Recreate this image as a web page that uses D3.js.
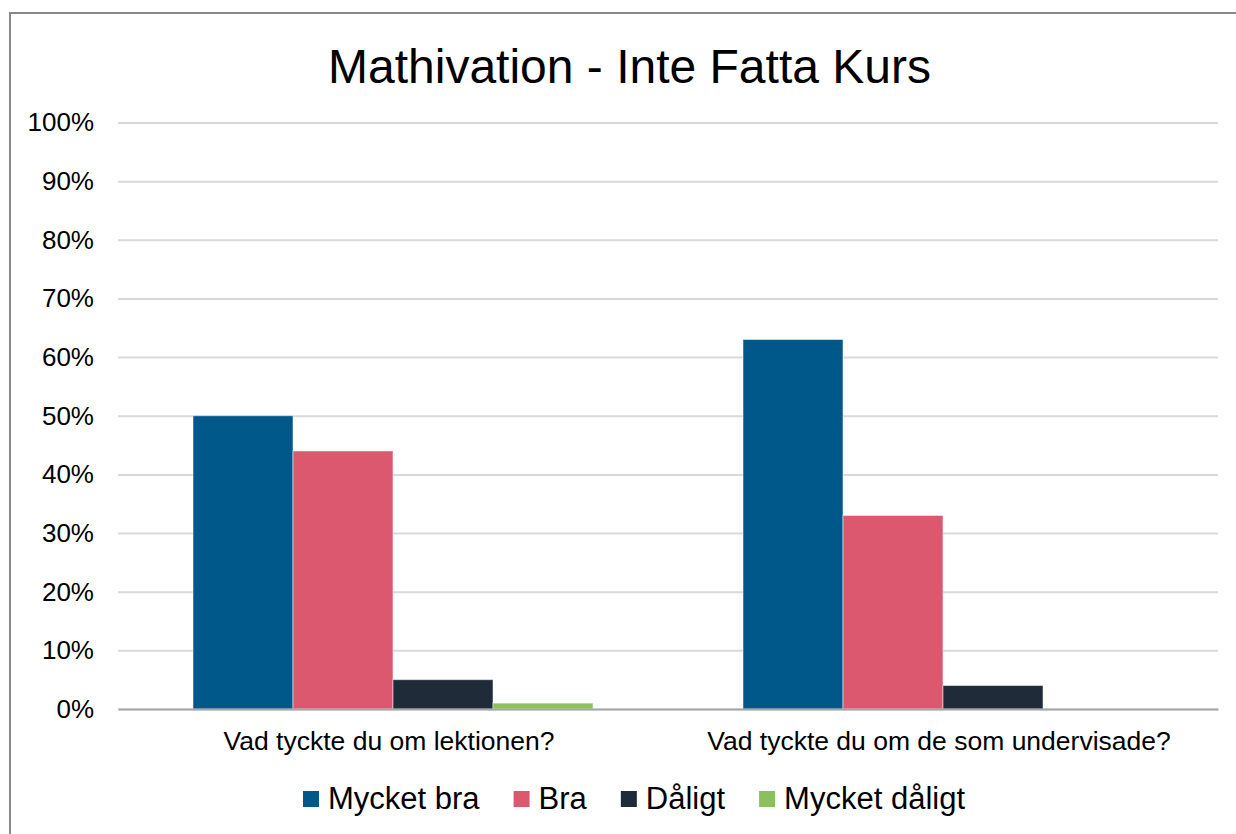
<!DOCTYPE html>
<html>
<head>
<meta charset="utf-8">
<script src="https://cdn.jsdelivr.net/npm/d3@7"></script>
<style>
  body { margin: 0; background: #fff; }
  svg { display: block; font-family: "Liberation Sans", Arial, sans-serif; }
</style>
</head>
<body>
<div id="visContainer"></div>
<script>
'use strict';

// data
var title = 'Mathivation - Inte Fatta Kurs';
var categories = ['Vad tyckte du om lektionen?', 'Vad tyckte du om de som undervisade?'];
var seriesNames = ['Mycket bra', 'Bra', 'Dåligt', 'Mycket dåligt'];
var seriesColors = ['#00578a', '#dc586f', '#1f2b38', '#8bc15a'];
var mycketBra = [0.50, 0.63];
var bra = [0.44, 0.33];
var daligt = [0.05, 0.04];
var mycketDaligt = [0.01, 0];
var yTicks = [0, 0.1, 0.2, 0.3, 0.4, 0.5, 0.6, 0.7, 0.8, 0.9, 1.0];

var seriesValues = [mycketBra, bra, daligt, mycketDaligt];

var width = 1236, height = 834;
var plot = {left: 118, right: 1218, top: 122.5, bottom: 709};

var svg = d3.select('#visContainer')
  .append('svg')
  .attr('width', width)
  .attr('height', height);

// chart frame (right and bottom edges fall outside the picture)
svg.append('rect')
  .attr('x', 10).attr('y', 13)
  .attr('width', width + 20).attr('height', height + 20)
  .attr('fill', '#fff')
  .attr('stroke', '#898989')
  .attr('stroke-width', 2);

// title
svg.append('text')
  .attr('x', 629.5).attr('y', 83)
  .attr('text-anchor', 'middle')
  .attr('font-size', 48)
  .attr('fill', '#000')
  .text(title);

var xScale = d3.scaleBand()
  .domain(categories)
  .range([plot.left, plot.right])
  .padding(0);

var inner = d3.scaleBand()
  .domain(seriesNames)
  .range([0, xScale.bandwidth()])
  .paddingInner(0)
  .paddingOuter(0.75);

var yScale = d3.scaleLinear()
  .domain([0, 1])
  .range([plot.bottom, plot.top]);

// gridlines + y labels
var yAxis = d3.axisLeft(yScale)
  .tickValues(yTicks)
  .tickFormat(d3.format('.0%'))
  .tickSize(-(plot.right - plot.left))
  .tickPadding(24);

var gy = svg.append('g')
  .attr('transform', 'translate(' + plot.left + ',0)')
  .call(yAxis);
gy.select('.domain').remove();
gy.selectAll('.tick line').attr('stroke', '#d9d9d9').attr('stroke-width', 2);
gy.selectAll('.tick text')
  .attr('font-size', 26)
  .attr('fill', '#000')
  .attr('font-family', '"Liberation Sans", Arial, sans-serif');

// bars
var groups = svg.selectAll('g.cat')
  .data(categories)
  .enter()
  .append('g')
  .attr('class', 'cat')
  .attr('transform', function(d) { return 'translate(' + xScale(d) + ',0)'; });

groups.selectAll('rect')
  .data(function(d, ci) {
    return seriesNames.map(function(s, si) {
      return {series: s, value: seriesValues[si][ci], color: seriesColors[si]};
    });
  })
  .enter()
  .append('rect')
  .attr('x', function(d) { return inner(d.series); })
  .attr('y', function(d) { return yScale(d.value); })
  .attr('width', inner.bandwidth())
  .attr('height', function(d) { return yScale(0) - yScale(d.value); })
  .attr('fill', function(d) { return d.color; })
  .attr('stroke', function(d) { return d.value > 0 ? 'rgba(255,255,255,0.5)' : 'none'; })
  .attr('stroke-width', 1);

// x axis
var xAxis = d3.axisBottom(xScale).tickSize(0).tickPadding(22);
var gx = svg.append('g')
  .attr('transform', 'translate(0,' + plot.bottom + ')')
  .call(xAxis);
gx.select('.domain').attr('stroke', '#a6a6a6').attr('stroke-width', 2);
gx.selectAll('.tick text')
  .attr('font-size', 26.5)
  .attr('dx', -4)
  .attr('fill', '#000')
  .attr('font-family', '"Liberation Sans", Arial, sans-serif');

// legend
var legend = svg.append('g').attr('class', 'legend');
var items = legend.selectAll('g')
  .data(seriesNames)
  .enter()
  .append('g');
items.append('rect')
  .attr('width', 16).attr('height', 16)
  .attr('y', -16)
  .attr('fill', function(d, i) { return seriesColors[i]; });
items.append('text')
  .attr('x', 25).attr('y', 0)
  .attr('font-size', 31)
  .attr('dy', '0.05em')
  .attr('fill', '#000')
  .text(function(d) { return d; });

var pos = 0;
items.each(function() {
  var w = d3.select(this).select('text').node().getComputedTextLength();
  d3.select(this).attr('transform', 'translate(' + pos + ',0)');
  pos += 25 + w + 34;
});
var legendWidth = pos - 34;
legend.attr('transform', 'translate(' + (634 - legendWidth / 2) + ',807)');
</script>
</body>
</html>
